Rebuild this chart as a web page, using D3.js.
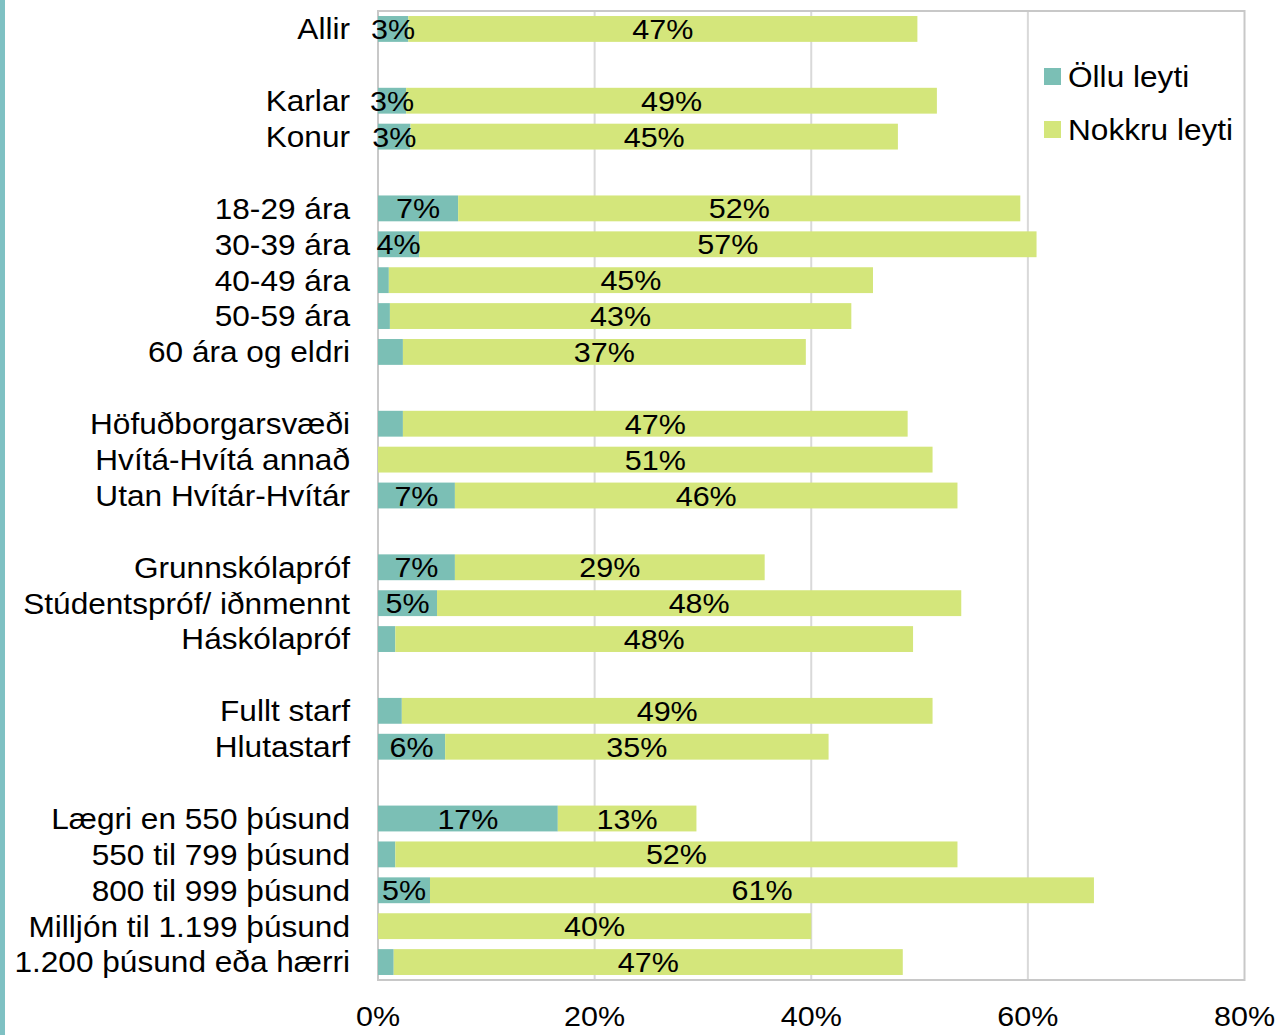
<!DOCTYPE html>
<html>
<head>
<meta charset="utf-8">
<script src="https://cdn.jsdelivr.net/npm/d3@7"></script>
<style>
  body { margin: 0; background: #fff; }
  svg { display: block; font-family: Arial, "Liberation Sans", Helvetica, sans-serif; }
</style>
</head>
<body>
<div id="viz"></div>
<script>
// empty strings are spacer rows between groups
const categories = [
    'Allir', '',
    'Karlar', 'Konur', '',
    '18-29 ára', '30-39 ára', '40-49 ára', '50-59 ára', '60 ára og eldri', '',
    'Höfuðborgarsvæði', 'Hvítá-Hvítá annað', 'Utan Hvítár-Hvítár', '',
    'Grunnskólapróf', 'Stúdentspróf/ iðnmennt', 'Háskólapróf', '',
    'Fullt starf', 'Hlutastarf', '',
    'Lægri en 550 þúsund', '550 til 799 þúsund', '800 til 999 þúsund', 'Milljón til 1.199 þúsund', '1.200 þúsund eða hærri'
];

const ollu = [
    2.8, null,
    2.6, 3.0, null,
    7.4, 3.8, 1.0, 1.1, 2.3, null,
    2.3, 0, 7.1, null,
    7.1, 5.45, 1.6, null,
    2.2, 6.2, null,
    16.6, 1.6, 4.8, 0, 1.45
];

const nokkru = [
    47.0, null,
    49.0, 45.0, null,
    51.9, 57.0, 44.7, 42.6, 37.2, null,
    46.6, 51.2, 46.4, null,
    28.6, 48.4, 47.8, null,
    49.0, 35.4, null,
    12.8, 51.9, 61.3, 40.0, 47.0
];

const seriesNames = ['Öllu leyti', 'Nokkru leyti'];
const seriesColors = ['#7bbfb5', '#d4e67b'];
const xTicks = [0, 20, 40, 60, 80];

const width = 1278, height = 1035;
const plotLeft = 378, plotRight = 1244.5, plotTop = 11, plotBottom = 980;
const stretch = 1.09; // text in the original is a bit wider than plain Arial

const rows = categories.map((c, i) => ({ key: i, name: c, a: ollu[i], b: nokkru[i] }));

const x = d3.scaleLinear().domain([0, 80]).range([plotLeft, plotRight]);
const y = d3.scaleBand()
    .domain(rows.map(d => d.key))
    .range([plotTop, plotBottom])
    .paddingInner(0.28)
    .paddingOuter(0.14);

const at = (tx, ty) => `translate(${tx},${ty}) scale(${stretch},1)`;

const svg = d3.select('#viz')
    .append('svg')
    .attr('width', width)
    .attr('height', height);

// teal strip at the left edge
svg.append('rect')
    .attr('x', 0).attr('y', 0)
    .attr('width', 5).attr('height', height)
    .attr('fill', '#7fc1c3');

// gridlines
svg.append('g')
    .selectAll('line').data(xTicks.slice(1, -1))
    .enter().append('line')
    .attr('x1', d => x(d)).attr('x2', d => x(d))
    .attr('y1', plotTop).attr('y2', plotBottom)
    .attr('stroke', '#d9d9d9')
    .attr('stroke-width', 2);

// plot frame
svg.append('rect')
    .attr('x', plotLeft).attr('y', plotTop)
    .attr('width', plotRight - plotLeft).attr('height', plotBottom - plotTop)
    .attr('fill', 'none')
    .attr('stroke', '#c8c8c8')
    .attr('stroke-width', 2);

const dataRows = rows.filter(d => d.name !== '');

const g = svg.append('g');

g.selectAll('rect.a').data(dataRows)
    .enter().append('rect')
    .attr('class', 'a')
    .attr('x', x(0))
    .attr('y', d => y(d.key))
    .attr('width', d => x(d.a) - x(0))
    .attr('height', y.bandwidth())
    .attr('fill', seriesColors[0]);

g.selectAll('rect.b').data(dataRows)
    .enter().append('rect')
    .attr('class', 'b')
    .attr('x', d => x(d.a))
    .attr('y', d => y(d.key))
    .attr('width', d => x(d.a + d.b) - x(d.a))
    .attr('height', y.bandwidth())
    .attr('fill', seriesColors[1]);

// value labels
g.selectAll('text.la').data(dataRows.filter(d => d.a >= 2.5))
    .enter().append('text')
    .attr('transform', d => at(x(d.a / 2), y(d.key) + y.bandwidth() / 2))
    .attr('dy', '0.36em')
    .attr('text-anchor', 'middle')
    .attr('font-size', 28)
    .text(d => Math.round(d.a) + '%');

g.selectAll('text.lb').data(dataRows)
    .enter().append('text')
    .attr('transform', d => at(x(d.a + d.b / 2), y(d.key) + y.bandwidth() / 2))
    .attr('dy', '0.36em')
    .attr('text-anchor', 'middle')
    .attr('font-size', 28)
    .text(d => Math.round(d.b) + '%');

// category labels
g.selectAll('text.cat').data(dataRows)
    .enter().append('text')
    .attr('transform', d => at(plotLeft - 28, y(d.key) + y.bandwidth() / 2))
    .attr('dy', '0.36em')
    .attr('text-anchor', 'end')
    .attr('font-size', 29)
    .text(d => d.name);

// x tick labels
svg.append('g')
    .selectAll('text').data(xTicks)
    .enter().append('text')
    .attr('transform', d => at(x(d), 1026))
    .attr('text-anchor', 'middle')
    .attr('font-size', 28)
    .text(d => d + '%');

// legend
const legend = svg.append('g')
    .selectAll('g').data(seriesNames)
    .enter().append('g')
    .attr('transform', (d, i) => `translate(1044, ${68 + i * 53})`);

legend.append('rect')
    .attr('width', 17).attr('height', 17)
    .attr('fill', (d, i) => seriesColors[i]);

legend.append('text')
    .attr('transform', at(24, 8.5))
    .attr('dy', '0.36em')
    .attr('font-size', 29)
    .text(d => d);
</script>
</body>
</html>
